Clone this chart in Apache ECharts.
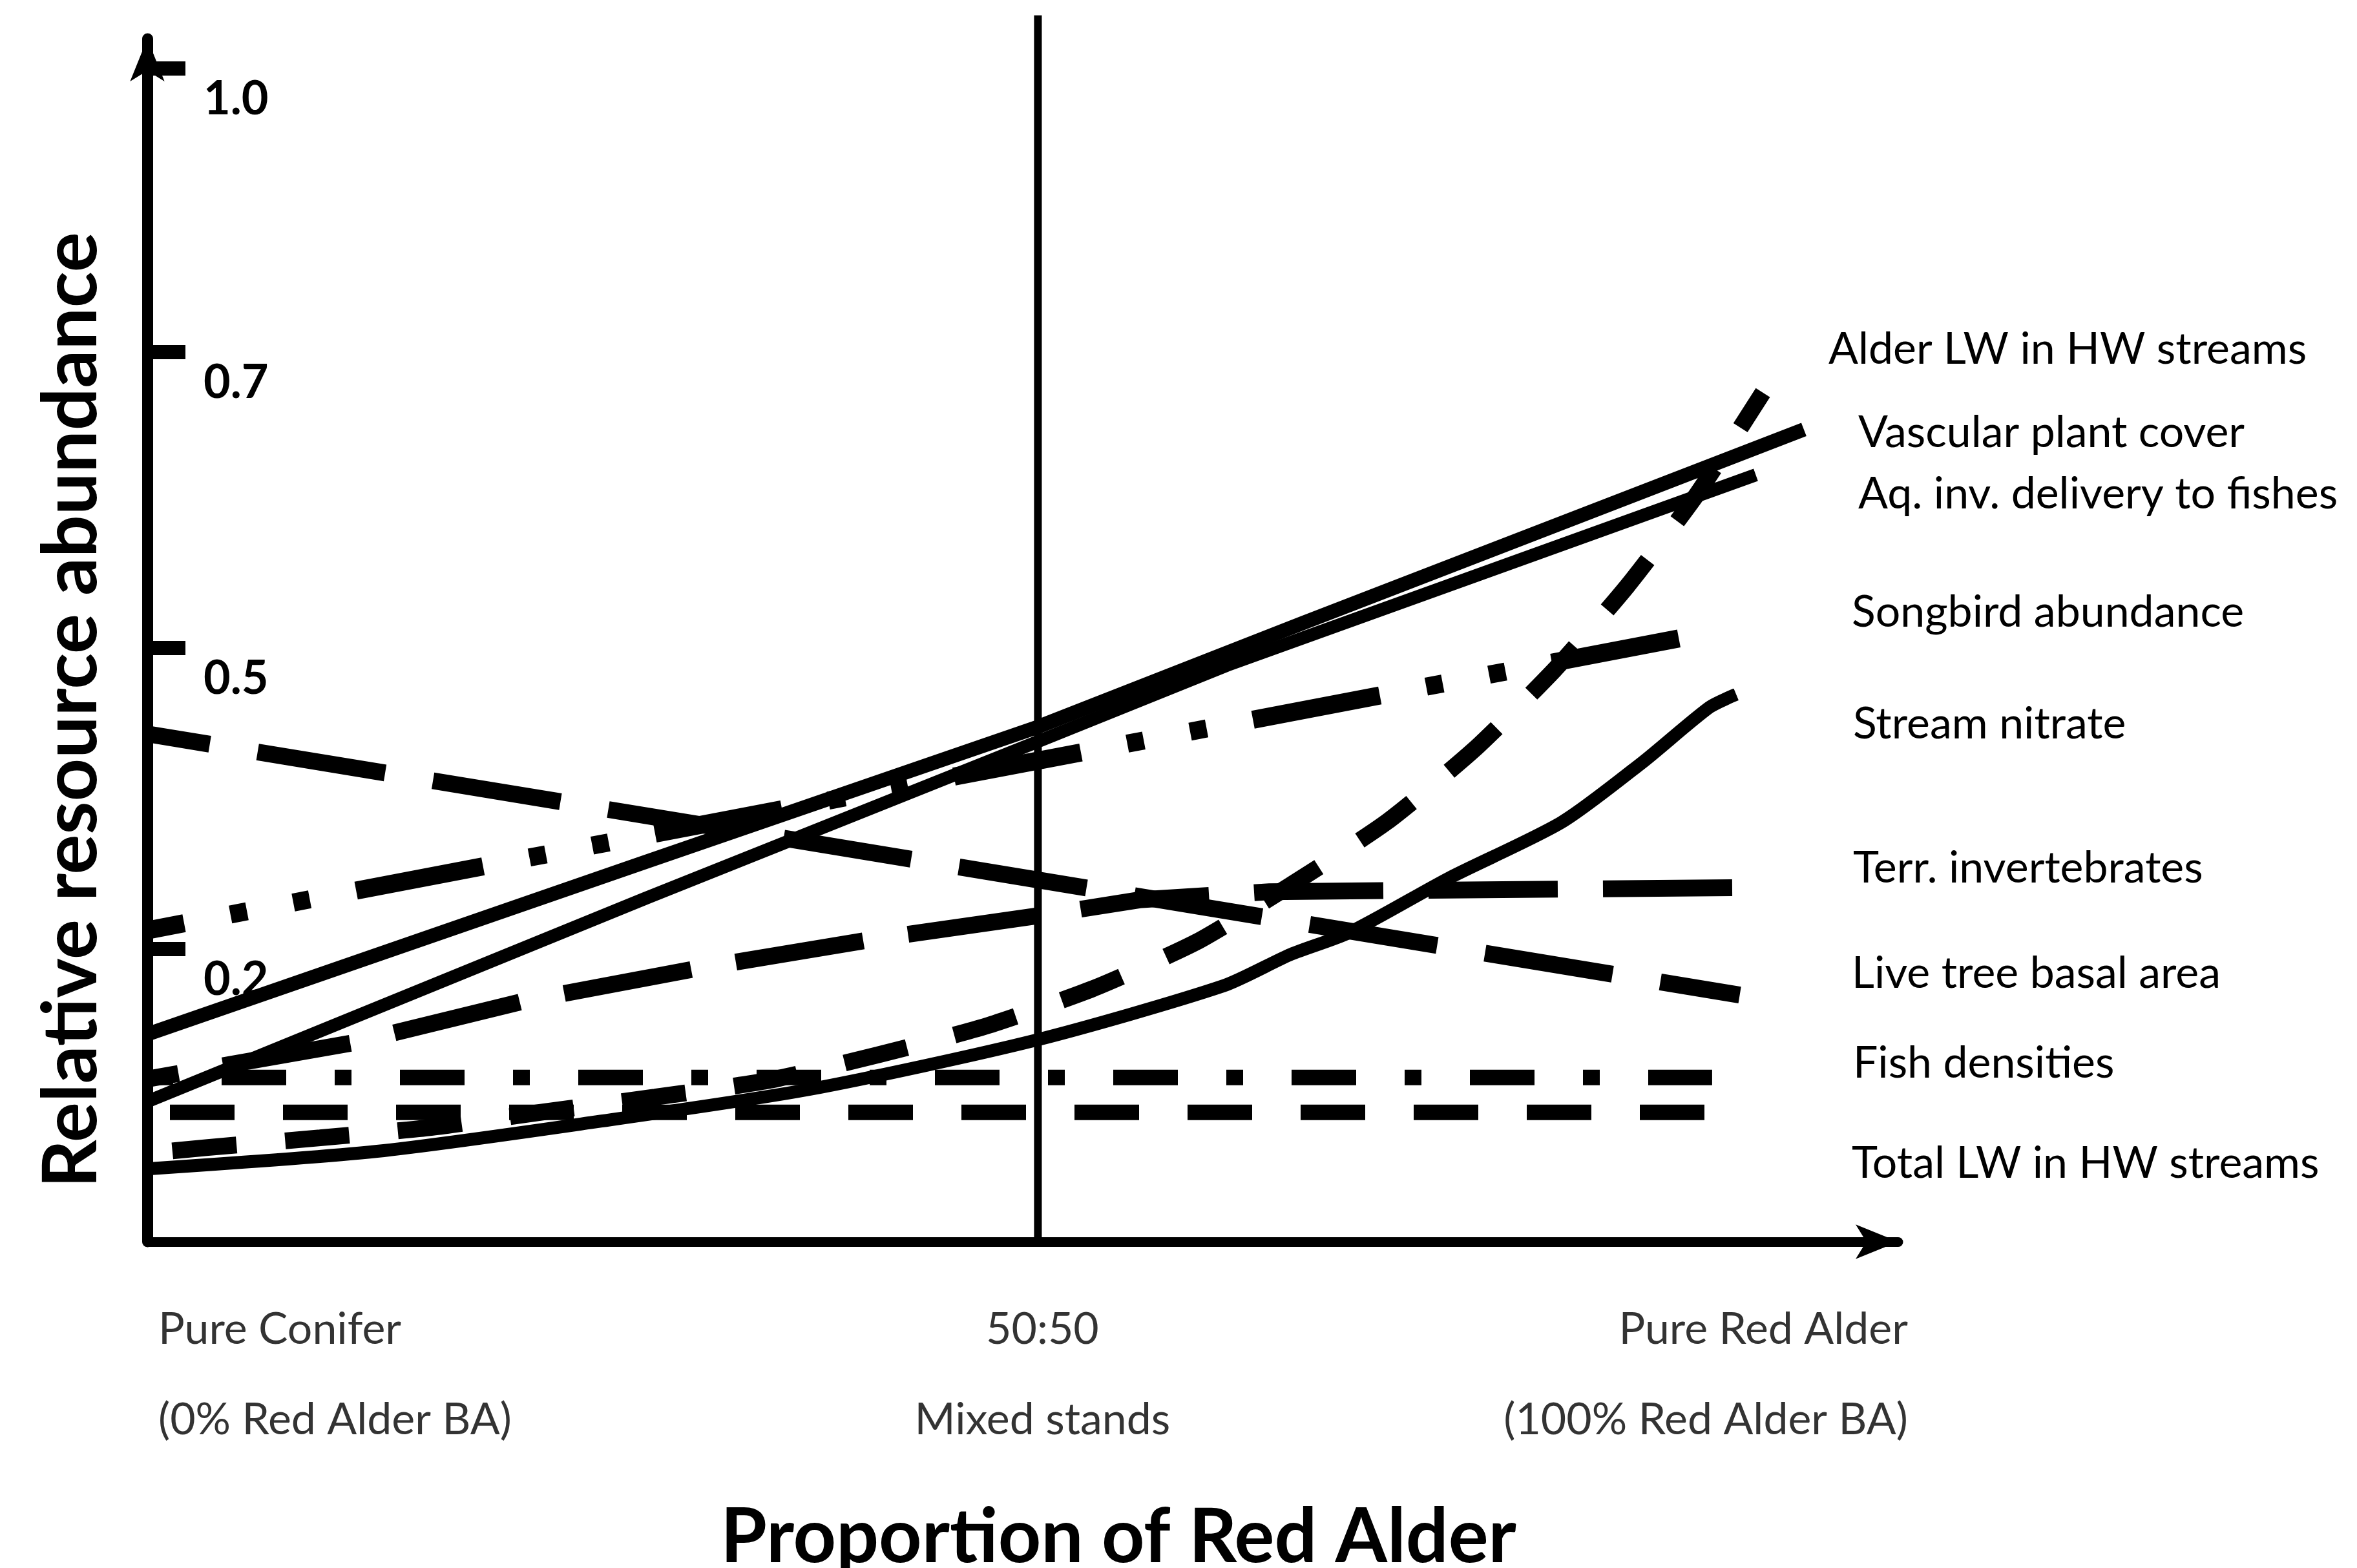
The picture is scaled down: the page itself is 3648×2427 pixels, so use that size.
<!DOCTYPE html>
<html>
<head>
<meta charset="utf-8">
<script src="https://cdn.jsdelivr.net/npm/echarts@6/dist/echarts.min.js"></script>
<style>
  html, body { margin: 0; padding: 0; background: #fff; }
  #chart { width: 3648px; height: 2427px; }
</style>
</head>
<body>
<div id="chart"></div>
<script>
// x: proportion of red alder basal area (%), y: schematic abundance (one unit per labelled tick)
var tickPos = [1.0, 2.03, 3.04, 4.01];
var tickLabels = ['0.2', '0.5', '0.7', '1.0'];

var standX = [0, 50, 98.3];
var standLabels = [
    'Pure Conifer\n(0% Red Alder BA)',
    '50:50\nMixed stands',
    'Pure Red Alder\n(100% Red Alder BA)'
];

var seriesNames = [
    'Alder LW in HW streams',
    'Vascular plant cover',
    'Aq. inv. delivery to fishes',
    'Songbird abundance',
    'Stream nitrate',
    'Terr. invertebrates',
    'Live tree basal area',
    'Fish densities',
    'Total LW in HW streams'
];

var alderLW = [[0, 0.302], [3.4, 0.322], [9.7, 0.355], [16.0, 0.391], [22.3, 0.444], [28.5, 0.494],
    [34.8, 0.550], [41.0, 0.638], [47.1, 0.737], [53.1, 0.865], [58.9, 1.024], [64.2, 1.219],
    [69.6, 1.435], [74.5, 1.682], [79.0, 1.954], [83.1, 2.241], [87.0, 2.554], [90.7, 2.901]];
var vascular = [[0, 0.709], [28.0, 1.298], [50.0, 1.759], [65.0, 2.117], [93.0, 2.775]];
var aqInv = [[0, 0.479], [28.0, 1.174], [50.0, 1.709], [60.6, 1.969], [90.3, 2.620]];
var songbird = [[0, 1.064], [86.6, 2.068]];
var nitrate = [[0, 0.249], [12.9, 0.309], [25.0, 0.408], [37.2, 0.521], [49.9, 0.689], [60.4, 0.874],
    [64.2, 0.982], [67.5, 1.057], [73.1, 1.243], [79.4, 1.433], [83.9, 1.636], [87.7, 1.826], [89.2, 1.870]];
var terrInv = [[0, 0.556], [11.6, 0.680], [21.2, 0.823], [30.9, 0.934], [40.7, 1.033], [50.4, 1.117],
    [55.7, 1.168], [63.0, 1.196], [89.3, 1.210]];
var liveTree = [[0, 1.735], [89.4, 0.843]];
var fishDens = [[0, 0.561], [87.85, 0.561]];
var totalLW = [[0, 0.442], [87.45, 0.442]];
var midLine = [[50, 0], [50, 4.19]];

var FONT = 'Lato';

function lineSeries(name, data, width, dash, offset, smooth) {
    return {
        name: name,
        type: 'line',
        data: data,
        symbol: 'none',
        smooth: smooth || false,
        silent: true,
        clip: false,
        lineStyle: {
            color: '#000',
            width: width,
            type: dash || 'solid',
            dashOffset: offset || 0,
            cap: 'butt'
        }
    };
}

var chart = echarts.init(document.getElementById('chart'));

var labelX = [2830, 2876, 2876, 2866, 2868, 2868, 2866, 2868, 2866];
var labelY = [541, 670, 765, 948, 1121, 1344, 1507, 1646, 1801];

var option = {
    animation: false,
    backgroundColor: '#fff',
    grid: { left: 228, right: 710, top: 60, bottom: 505, outerBoundsMode: 'none' },
    xAxis: {
        type: 'value',
        min: 0,
        max: 98.3,
        splitLine: { show: false },
        axisTick: { show: false },
        axisLabel: { show: false },
        axisLine: {
            lineStyle: { color: '#000', width: 15 },
            symbol: ['none', 'arrow'],
            symbolSize: [40, 66]
        },
        name: 'Proportion of Red Alder',
        nameLocation: 'middle',
        nameGap: 401,
        nameTextStyle: {
            fontFamily: FONT, fontSize: 116, fontWeight: 'bold', color: '#000',
            padding: [0, 0, 0, 296]
        }
    },
    yAxis: {
        type: 'value',
        min: 0,
        max: 4.11,
        splitLine: { show: false },
        axisLine: {
            lineStyle: { color: '#000', width: 17 },
            symbol: ['none', 'arrow'],
            symbolSize: [40, 66]
        },
        axisTick: {
            inside: true,
            length: 59,
            customValues: tickPos,
            lineStyle: { color: '#000', width: 22 }
        },
        axisLabel: {
            inside: true,
            margin: 87,
            customValues: tickPos,
            formatter: function (v) {
                return tickLabels[tickPos.indexOf(v)];
            },
            fontFamily: FONT,
            fontSize: 72,
            fontWeight: 'bold',
            color: '#000',
            verticalAlign: 'top',
            lineHeight: 96
        },
        name: 'Relative resource abundance',
        nameLocation: 'middle',
        nameRotate: 90,
        nameGap: 58,
        nameTextStyle: {
            fontFamily: FONT, fontSize: 116, fontWeight: 'bold', color: '#000',
            padding: [0, 216, 0, 0]
        }
    },
    graphic: seriesNames.map(function (t, i) {
        return {
            type: 'text',
            x: labelX[i],
            y: labelY[i],
            style: {
                text: t,
                fontFamily: FONT,
                fontSize: 68,
                fill: '#000',
                align: 'left',
                verticalAlign: 'middle'
            }
        };
    }),
    series: [
        lineSeries('50:50', midLine, 12),
        lineSeries(seriesNames[0], alderLW, 26, [100, 75], 136, 0.2),
        lineSeries(seriesNames[1], vascular, 22),
        lineSeries(seriesNames[2], aqInv, 20),
        lineSeries(seriesNames[3], songbird, 28, [200, 73, 26, 73, 26, 73], 142),
        lineSeries(seriesNames[4], nitrate, 20, null, 0, 0.25),
        lineSeries(seriesNames[5], terrInv, 26, [200, 70], 151),
        lineSeries(seriesNames[6], liveTree, 26, [200, 75], 102),
        lineSeries(seriesNames[7], fishDens, 24, [100, 75, 26, 75], 161),
        lineSeries(seriesNames[8], totalLW, 24, [100, 75], 140),
        {
            name: 'stands',
            type: 'scatter',
            symbolSize: 0,
            silent: true,
            clip: false,
            data: standX.map(function (x, i) {
                return {
                    value: [x, 0],
                    label: {
                        align: ['left', 'center', 'right'][i],
                        offset: [[17, 0], [7, 0], [15, 0]][i]
                    }
                };
            }),
            label: {
                show: true,
                position: 'bottom',
                distance: 66,
                formatter: function (p) { return standLabels[p.dataIndex]; },
                fontFamily: FONT,
                fontSize: 68,
                lineHeight: 140,
                color: '#000'
            }
        }
    ]
};

chart.setOption(option);
</script>
</body>
</html>
